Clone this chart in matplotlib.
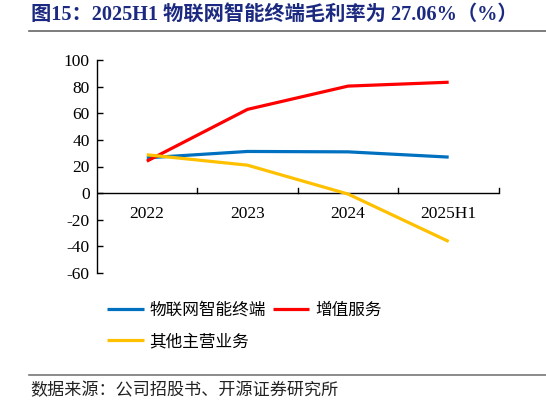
import matplotlib
matplotlib.use("Agg")
import matplotlib.pyplot as plt
from matplotlib.lines import Line2D

categories = ["2022", "2023", "2024", "2025H1"]
iot_terminal = [26.5, 31.3, 31.0, 27.06]
value_added = [24.0, 62.9, 80.4, 83.3]
other_main = [28.8, 21.0, -0.7, -36.3]
series_names = ["物联网智能终端", "增值服务", "其他主营业务"]
y_ticks = [100, 80, 60, 40, 20, 0, -20, -40, -60]

title = "图15：2025H1 物联网智能终端毛利率为 27.06%（%）"
source = "数据来源：公司招股书、开源证券研究所"

serif_cjk = ["Liberation Serif", "Noto Sans CJK SC"]
cjk = ["Noto Sans CJK SC", "DejaVu Sans"]

W, H = 546, 404
fig = plt.figure(figsize=(W / 100, H / 100), dpi=100)
ax = fig.add_axes([96.5 / W, 1 - 273 / H, (499 - 96.5) / W, (273 - 60) / H])

colors = ["#0070C0", "#FF0000", "#FFC000"]
xs = list(range(len(categories)))
lines = []
for vals, c, name in zip([iot_terminal, value_added, other_main], colors, series_names):
    ln, = ax.plot(xs, vals, color=c, lw=2.3, label=name, solid_capstyle="butt", zorder=3)
    lines.append(ln)

ax.set_xlim(-0.5, len(categories) - 0.5)
ax.set_ylim(-60, 100)
ax.set_yticks(y_ticks)
ax.set_yticklabels([str(v) for v in y_ticks], fontfamily="Liberation Serif", fontsize=12.5)
ax.tick_params(axis="y", direction="in", length=4, width=1, pad=5, colors="black")

for s in ["top", "right", "bottom"]:
    ax.spines[s].set_visible(False)
ax.spines["left"].set_linewidth(1)
ax.spines["left"].set_color("black")

# x axis at y=0
ax.axhline(0, color="black", lw=1, zorder=2)
ax.set_xticks([])
for b in [0.5, 1.5, 2.5, 3.5]:
    ax.plot([b, b], [0, 3.5], color="black", lw=1, zorder=2, clip_on=False)
for x, lab in zip(xs, categories):
    ax.text(x, -16, lab, ha="center", va="center", fontfamily="Liberation Serif", fontsize=12.5)

# title
fig.text(31 / W, 1 - 15 / H, title, ha="left", va="center", fontsize=14.6, fontweight="bold",
         color="#1B2A80", family=serif_cjk)
fig.add_artist(Line2D([29 / W, 1.0], [1 - 30.5 / H, 1 - 30.5 / H], color="#666666", lw=1.2))

# legend (row-major order: blue, red / yellow)
order = [0, 2, 1]
leg = fig.legend(handles=[lines[i] for i in order], labels=[series_names[i] for i in order],
                 ncol=2, loc="upper left",
                 bbox_to_anchor=(107 / W, 1 - 302 / H), frameon=False,
                 prop={"family": cjk, "size": 12}, handlelength=2.2, handletextpad=0.35,
                 columnspacing=0.4, labelspacing=0.85, borderpad=0, borderaxespad=0)

# source
fig.add_artist(Line2D([29 / W, 1.0], [1 - 375 / H, 1 - 375 / H], color="#777777", lw=1.2))
fig.text(30 / W, 1 - 390 / H, source, ha="left", va="center", fontsize=12.3, family=cjk, color="#222222")

fig.savefig("out.png", dpi=100)
